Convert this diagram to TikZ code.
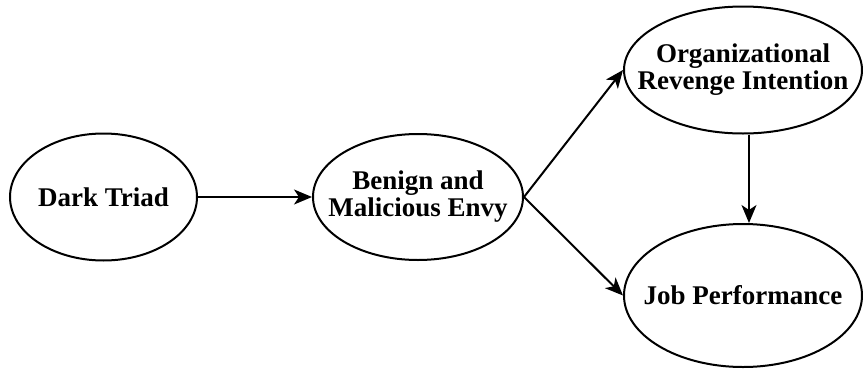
\documentclass[tikz,border=0pt]{standalone}
\usepackage{fontspec}
\setmainfont{Liberation Serif}
\usetikzlibrary{shapes.geometric}
\usetikzlibrary{arrows.meta}

\begin{document}
\begin{tikzpicture}	[
		x=0.5pt, y=-0.5pt,
		construct/.style={draw, ellipse, line width=1pt, inner sep=0},
		txt/.style={align=center, font=\fontsize{13.5}{13.5}\selectfont\bfseries},
		link/.style={-{Stealth[length=9pt,width=7.5pt,inset=2.5pt]}, line width=1pt}
	]
		\useasboundingbox (0,0) rectangle (863,370);
		\path
			(103.5,197) node[construct,minimum width=93.5pt,minimum height=63.5pt,
				label={[txt]center:Dark Triad}](DT){}
			(418,197) node[construct,minimum width=105pt,minimum height=63pt,
				label={[txt]center:Benign and\\Malicious Envy}](BME){}
			(743,70) node[construct,minimum width=119pt,minimum height=63.5pt,
				label={[txt]center:Organizational\\Revenge Intention}](ORI){}
			(743,295.5) node[construct,minimum width=119pt,minimum height=71.5pt,
				label={[txt]center:Job Performance}](JP){}
		;
		\draw[link]
			(DT.east) -- (BME.west)
		;
		\draw[link]
			(BME.east) -- (ORI.west)
		;
		\draw[link]
			(BME.east) -- (JP.west)
		;
		\draw[link]
			([xshift=3pt]ORI.south) -- ([xshift=3pt]JP.north)
		;
	\end{tikzpicture}
\end{document}
